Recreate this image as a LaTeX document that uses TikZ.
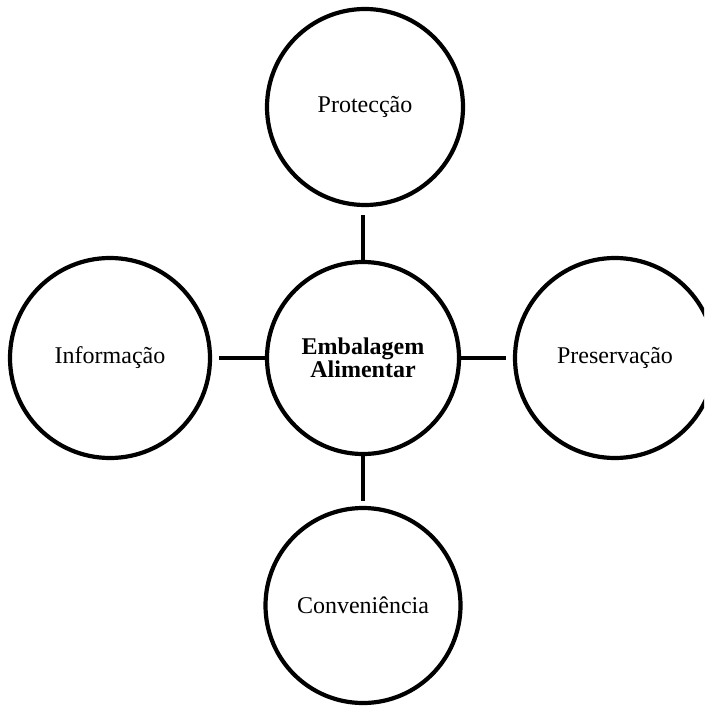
\documentclass[tikz,border=0pt]{standalone}
\usepackage{fontspec}
\setmainfont{Liberation Serif}
\begin{document}
\begin{tikzpicture}[x=1pt,y=-1pt,
  bubble/.style={circle,draw,line width=4.2pt,inner sep=0pt,outer sep=0pt,align=center,
    font=\fontsize{24pt}{23pt}\selectfont},
  link/.style={line width=4.2pt}]
\useasboundingbox (0,0) rectangle (704,708);
\clip (0,0) rectangle (704,708);
\node[bubble,minimum size=192pt] (c) at (363,358) {\textbf{Embalagem}\\\textbf{Alimentar}};
\node[bubble,minimum size=196pt] (top) at (365,107) {Protecção};
\node[bubble,minimum size=200pt] (left) at (110,358) {Informação};
\node[bubble,minimum size=200pt] (right) at (615,358) {Preservação};
\node[bubble,minimum size=195pt] (bot) at (363,605.5) {Conveniência};
\draw[link] (c.north) -- ([yshift=-10pt]top.south -| c.north);
\draw[link] (c.west) -- ([xshift=9pt]left.east);
\draw[link] (c.east) -- ([xshift=-9pt]right.west);
\draw[link] (c.south) -- ([yshift=7pt]bot.north -| c.south);
\end{tikzpicture}
\end{document}
